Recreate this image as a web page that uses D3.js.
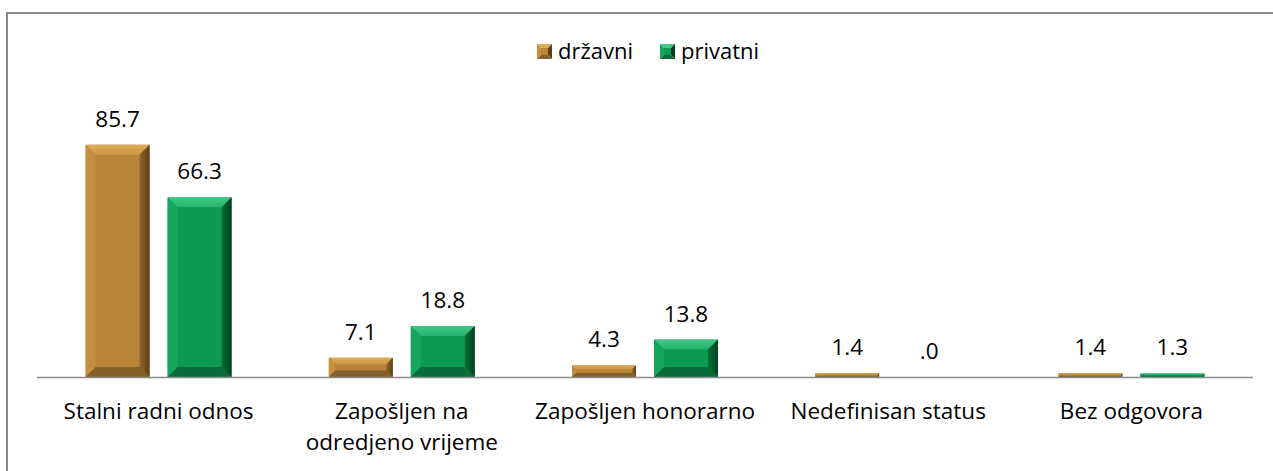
<!DOCTYPE html>
<html>
<head>
<meta charset="utf-8">
<script src="https://cdn.jsdelivr.net/npm/d3@7"></script>
<style>
    body { margin: 0; background: #fff; }
    text { font-family: "Open Sans", "Noto Sans", sans-serif; fill: #000; }
    .val { font-size: 22.5px; }
    .cat { font-size: 22.5px; }
    .leg { font-size: 22px; }
</style>
</head>
<body>
<svg id="chart" width="1273" height="471"></svg>
<script>
// podaci
const categories = ["Stalni radni odnos", "Zapošljen na\nodredjeno vrijeme", "Zapošljen honorarno", "Nedefinisan status", "Bez odgovora"];
const series = ["državni", "privatni"];
const drzavni = [85.7, 7.1, 4.3, 1.4, 1.4];
const privatni = [66.3, 18.8, 13.8, 0.0, 1.3];
const valueLabels = [["85.7", "7.1", "4.3", "1.4", "1.4"], ["66.3", "18.8", "13.8", ".0", "1.3"]];

// boje za bevel efekat
const palettes = {
    "državni": {face: "#B8843A", top: "#DDAA55", left: "#C4903F", right: "#5E3F16", bottom: "#86602A"},
    "privatni": {face: "#0B9A4F", top: "#40C884", left: "#14A65B", right: "#033F1E", bottom: "#0A6C38"}
};

const svg = d3.select("#chart");
const margin = {left: 37, right: 20, base: 377, top: 106};
const width = 1273;

// okvir (samo gornja i lijeva ivica se vide)
svg.append("path")
    .attr("d", `M7,471 L7,13 L${width},13`)
    .attr("fill", "none")
    .attr("stroke", "#8a8a8a")
    .attr("stroke-width", 2);

let x0 = d3.scaleBand()
    .domain(categories)
    .range([margin.left, width - margin.right])
    .padding(0);

let x1 = d3.scaleBand()
    .domain(series)
    .range([x0.bandwidth() * 0.2, x0.bandwidth() * 0.8])
    .paddingInner(0.22);

let y = d3.scaleLinear()
    .domain([0, 100])
    .range([margin.base, margin.top]);

// gradijenti
const defs = svg.append("defs");
for (let s of series) {
    let p = palettes[s];
    let id = s == "državni" ? "d" : "p";
    let gt = defs.append("linearGradient").attr("id", "top-" + id).attr("x1", 0).attr("y1", 0).attr("x2", 0).attr("y2", 1);
    gt.append("stop").attr("offset", "0%").attr("stop-color", p.top);
    gt.append("stop").attr("offset", "100%").attr("stop-color", d3.interpolateRgb(p.top, p.face)(0.5));
    let gr = defs.append("linearGradient").attr("id", "right-" + id).attr("x1", 0).attr("y1", 0).attr("x2", 1).attr("y2", 0);
    gr.append("stop").attr("offset", "0%").attr("stop-color", d3.interpolateRgb(p.face, p.right)(0.45));
    gr.append("stop").attr("offset", "100%").attr("stop-color", p.right);
}

function bevelBar(g, bx, by, bw, bh, s) {
    if (bh <= 0) return;
    let p = palettes[s];
    let id = s == "državni" ? "d" : "p";
    let b = Math.min(10, bh / 3);
    let x2 = bx + bw, y2 = by + bh;
    g.append("rect").attr("x", bx).attr("y", by).attr("width", bw).attr("height", bh).attr("fill", p.face);
    g.append("polygon").attr("fill", `url(#top-${id})`)
        .attr("points", [[bx, by], [x2, by], [x2 - b, by + b], [bx + b, by + b]].join(" "));
    g.append("polygon").attr("fill", p.left)
        .attr("points", [[bx, by], [bx + b, by + b], [bx + b, y2 - b], [bx, y2]].join(" "));
    g.append("polygon").attr("fill", `url(#right-${id})`)
        .attr("points", [[x2, by], [x2, y2], [x2 - b, y2 - b], [x2 - b, by + b]].join(" "));
    g.append("polygon").attr("fill", p.bottom)
        .attr("points", [[bx, y2], [bx + b, y2 - b], [x2 - b, y2 - b], [x2, y2]].join(" "));
}

// stupci
let groups = svg.selectAll("g.cat")
    .data(categories)
    .enter()
    .append("g")
    .attr("class", "cat")
    .attr("transform", d => `translate(${x0(d)},0)`);

groups.each(function(c, i) {
    let g = d3.select(this);
    let vals = [drzavni[i], privatni[i]];
    series.forEach((s, j) => {
        let bx = x1(s);
        let top = y(vals[j]);
        bevelBar(g, bx, top, x1.bandwidth(), margin.base - top, s);
        g.append("text")
            .attr("class", "val")
            .attr("x", bx + x1.bandwidth() / 2)
            .attr("y", top - 18)
            .attr("text-anchor", "middle")
            .text(valueLabels[j][i]);
    });
});

// osa
svg.append("line")
    .attr("x1", margin.left).attr("x2", width - margin.right)
    .attr("y1", margin.base + 0.5).attr("y2", margin.base + 0.5)
    .attr("stroke", "#8c8c8c")
    .attr("stroke-width", 1.5);

// nazivi kategorija
groups.each(function(c) {
    let t = d3.select(this).append("text")
        .attr("class", "cat")
        .attr("text-anchor", "middle")
        .attr("y", 419);
    c.split("\n").forEach((line, k) => {
        t.append("tspan")
            .attr("x", x0.bandwidth() / 2)
            .attr("dy", k == 0 ? 0 : 31)
            .text(line);
    });
});

// legenda
const legendX = [537, 660];
series.forEach((s, j) => {
    let p = palettes[s];
    let lx = legendX[j], ly = 44, sz = 15, m = sz / 2;
    let lg = svg.append("g");
    lg.append("polygon").attr("fill", p.top).attr("points", [[lx, ly], [lx + sz, ly], [lx + m, ly + m]].join(" "));
    lg.append("polygon").attr("fill", p.left).attr("points", [[lx, ly], [lx + m, ly + m], [lx, ly + sz]].join(" "));
    lg.append("polygon").attr("fill", p.right).attr("points", [[lx + sz, ly], [lx + sz, ly + sz], [lx + m, ly + m]].join(" "));
    lg.append("polygon").attr("fill", p.bottom).attr("points", [[lx, ly + sz], [lx + m, ly + m], [lx + sz, ly + sz]].join(" "));
    lg.append("rect").attr("x", lx + 4).attr("y", ly + 4).attr("width", sz - 8).attr("height", sz - 8).attr("fill", p.face);
    lg.append("text")
        .attr("class", "leg")
        .attr("x", lx + sz + 6)
        .attr("y", 59)
        .text(s);
});
</script>
</body>
</html>
